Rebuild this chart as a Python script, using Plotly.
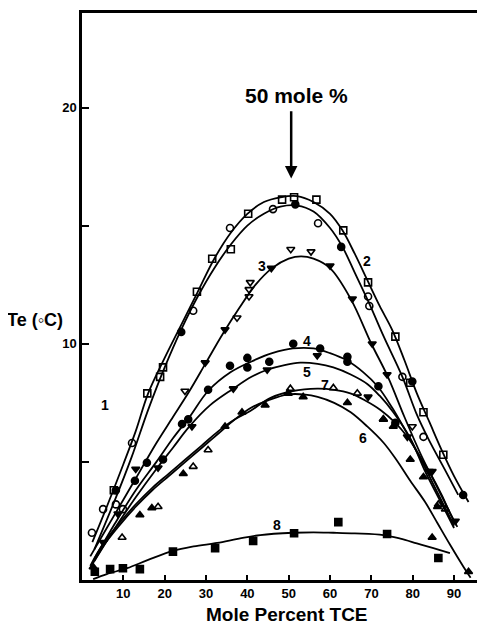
import plotly.graph_objects as go

# ---------------- fitted curves ----------------
curve1_x = [2.5, 6, 10, 13, 16, 20, 24, 28, 32, 36, 40, 44, 48, 52, 56, 60, 63, 66, 69, 72, 75, 78, 81, 84, 87, 90, 93.5]
curve1_y = [1.6, 3.1, 4.9, 6.3, 7.9, 9.4, 10.8, 12.2, 13.6, 14.7, 15.5, 16.0, 16.2, 16.25, 16.0, 15.5, 14.8, 13.8, 12.7, 11.6, 10.6, 9.3, 7.9, 6.7, 5.5, 4.4, 3.3]

curve2_x = [3, 8, 12, 16, 20, 24, 28, 32, 36, 40, 44, 48, 52, 56, 60, 63, 66, 69.5, 73, 77.5, 81, 84, 88, 91]
curve2_y = [1.3, 3.4, 5.2, 7.2, 9.0, 10.6, 12.0, 13.2, 14.2, 15.0, 15.5, 15.8, 15.85, 15.6, 14.9, 14.1, 13.0, 11.7, 10.3, 8.6, 7.0, 5.9, 4.6, 3.6]

curve3_x = [2, 6, 10, 14, 18, 22, 26, 30, 34, 38, 42, 46, 50, 53, 56, 60, 65, 70, 74, 78, 82, 86, 90]
curve3_y = [1.0, 2.2, 3.4, 4.6, 5.8, 6.9, 8.0, 9.2, 10.4, 11.5, 12.5, 13.2, 13.6, 13.7, 13.6, 13.2, 11.9, 10.0, 8.6, 6.9, 5.3, 3.9, 2.5]

curve4_x = [3, 8, 13, 18, 22, 26, 30.5, 36, 41, 46, 51, 56, 60, 64, 68, 71.5, 75, 78, 82, 86, 90]
curve4_y = [0.9, 2.4, 3.8, 5.0, 6.0, 6.9, 8.0, 8.8, 9.25, 9.6, 9.8, 9.8, 9.6, 9.3, 8.8, 8.2, 7.3, 6.4, 5.1, 3.7, 2.3]

curve5_x = [3, 8, 13, 18, 22, 26, 31, 36.6, 41, 44.8, 49, 52.8, 57, 60.8, 65, 69, 72, 75.3, 79.4, 83, 86.5, 90]
curve5_y = [0.8, 2.2, 3.5, 4.7, 5.6, 6.5, 7.4, 8.1, 8.6, 8.9, 9.1, 9.2, 9.15, 9.0, 8.7, 8.3, 7.8, 7.1, 6.0, 4.6, 3.4, 2.2]

curve6_x = [2, 5, 9, 13, 17, 21, 25, 29, 33, 37, 41, 45, 49.6, 54, 57, 61, 65, 69, 73, 76, 79.4, 83, 86, 89, 92.3, 94]
curve6_y = [0.5, 1.4, 2.3, 3.1, 3.8, 4.4, 5.0, 5.6, 6.2, 6.8, 7.3, 7.6, 7.85, 7.85, 7.75, 7.5, 7.1, 6.5, 5.8, 5.1, 4.2, 3.3, 2.4, 1.5, 0.55, 0.1]

curve7_x = [2, 5, 9, 13, 17, 21, 25, 29, 33, 37, 40.7, 45.5, 51, 56.9, 61, 64.9, 68.5, 72.2, 75.5, 78.7, 81.5, 84.3, 87, 89.1, 90.8]
curve7_y = [0.6, 1.5, 2.4, 3.2, 3.9, 4.5, 5.1, 5.7, 6.3, 6.8, 7.15, 7.7, 8.0, 8.1, 8.05, 7.9, 7.6, 7.2, 6.7, 6.06, 5.3, 4.5, 3.6, 2.8, 2.25]

curve8_x = [2.7, 6, 10.9, 16, 22, 27, 32.7, 38, 43.1, 51.1, 56, 60.8, 66, 72.9, 77, 81, 85, 89]
curve8_y = [0.04, 0.25, 0.5, 0.85, 1.23, 1.42, 1.57, 1.75, 1.9, 2.0, 2.02, 2.0, 1.97, 1.9, 1.75, 1.55, 1.35, 1.14]

# ---------------- measured points ----------------
s1_x = [7.7, 15.8, 18.9, 19.6, 27.8, 31.5, 36, 40.2, 48.4, 51.3, 56.7, 63.2, 69.2, 75.8, 79.4, 82.6, 87.4]
s1_y = [3.8, 7.9, 8.6, 9.0, 12.2, 13.6, 14.0, 15.5, 16.1, 16.2, 16.1, 14.8, 12.6, 10.3, 8.35, 7.1, 5.3]

s2_open_x = [2.4, 5.1, 8.2, 9.9, 12.1, 26.9, 35.8, 46.2, 57.1, 69.2, 69.5, 77.5, 82.6]
s2_open_y = [2.0, 3.0, 3.2, 3.0, 5.8, 11.4, 14.9, 15.7, 15.1, 12.0, 11.6, 8.6, 6.06]
s2_filled_x = [24.0, 51.6, 62.7, 79.9, 92.2]
s2_filled_y = [10.5, 15.9, 14.1, 8.4, 3.6]

s3_open_x = [24.9, 37.5, 40.4, 40.4, 40.7, 50.5, 55.4, 79.9]
s3_open_y = [8.0, 11.1, 12.0, 12.3, 12.6, 14.0, 13.9, 6.5]
s3_filled_x = [13, 29.8, 34.6, 45.8, 60, 65.4, 70.2, 73.8, 84]
s3_filled_y = [4.7, 9.2, 10.6, 13.2, 13.3, 11.9, 10.0, 8.7, 4.6]

s4_x = [8.2, 12.8, 15.7, 19.6, 24.2, 25.7, 30.5, 35.8, 40, 40, 45.3, 51.1, 57.6, 64.2, 64.2, 71.7, 75.8]
s4_y = [3.8, 4.2, 4.96, 5.1, 6.6, 6.8, 8.05, 9.07, 9.4, 9.0, 9.24, 10.0, 9.8, 9.45, 9.24, 8.2, 6.65]

s5_x = [5.1, 8.7, 18.4, 26.6, 36.6, 44.8, 56.9, 69.2, 78.7, 84.7, 90.3]
s5_y = [1.6, 2.8, 4.75, 6.5, 8.1, 8.9, 9.5, 7.75, 6.06, 4.6, 2.5]

s6_x = [2.7, 14, 16.9, 24.5, 34.6, 38.7, 44.3, 49.9, 53.5, 64.2, 72.9, 75.3, 79.4, 82.6, 84.7, 86, 93.5]
s6_y = [0.55, 2.75, 3.05, 4.5, 6.5, 7.1, 7.4, 7.9, 7.75, 7.5, 6.8, 6.5, 5.1, 4.36, 1.8, 3.1, 0.35]

s7_x = [9.7, 18.4, 26.9, 30.5, 50.4, 60.8, 66.6, 72.9, 86.2, 87.9]
s7_y = [1.8, 3.1, 4.8, 5.5, 8.1, 8.13, 7.9, 6.8, 3.2, 3.0]

s8_x = [3.1, 6.8, 9.9, 14, 22, 32.2, 41.4, 51.3, 62, 73.8, 86.2]
s8_y = [0.35, 0.46, 0.5, 0.46, 1.2, 1.35, 1.65, 1.98, 2.45, 1.95, 0.93]

# curve labels
label_text = ["1", "2", "3", "4", "5", "6", "7", "8"]
label_x = [5.6, 69.0, 43.6, 54.5, 54.5, 68.0, 58.8, 47.2]
label_y = [7.4, 13.5, 13.3, 10.1, 8.8, 6.0, 8.26, 2.33]

x_ticks = [10, 20, 30, 40, 50, 60, 70, 80, 90]
y_ticks = [5, 10, 15, 20]
y_ticklabels = ["", "10", "", "20"]

FONT = "Liberation Sans"

fig = go.Figure()

curves = [(curve1_x, curve1_y), (curve2_x, curve2_y), (curve3_x, curve3_y), (curve4_x, curve4_y),
          (curve5_x, curve5_y), (curve6_x, curve6_y), (curve7_x, curve7_y), (curve8_x, curve8_y)]
for cx, cy in curves:
    fig.add_trace(go.Scatter(x=cx, y=cy, mode="lines",
                             line=dict(color="black", width=1.8, shape="spline", smoothing=1.0),
                             hoverinfo="skip"))

points = [
    (s1_x, s1_y, "square-open"),
    (s2_open_x, s2_open_y, "circle-open"),
    (s2_filled_x, s2_filled_y, "circle"),
    (s3_open_x, s3_open_y, "triangle-down-open"),
    (s3_filled_x, s3_filled_y, "triangle-down"),
    (s4_x, s4_y, "circle"),
    (s5_x, s5_y, "triangle-down"),
    (s6_x, s6_y, "triangle-up"),
    (s7_x, s7_y, "triangle-up-open"),
    (s8_x, s8_y, "square"),
]
for px, py, sym in points:
    fig.add_trace(go.Scatter(x=px, y=py, mode="markers",
                             marker=dict(symbol=sym, size=7, color="black",
                                         line=dict(color="black", width=1.6))))

annotations = []
for t, lx, ly in zip(label_text, label_x, label_y):
    annotations.append(dict(x=lx, y=ly, xref="x", yref="y", text="<b>%s</b>" % t,
                            showarrow=False, xanchor="center", yanchor="middle",
                            font=dict(family=FONT, size=14, color="black")))

annotations.append(dict(x=52, y=20.5, xref="x", yref="y", text="<b>50 mole %</b>",
                        showarrow=False, xanchor="center", yanchor="middle",
                        font=dict(family=FONT, size=21, color="black")))
annotations.append(dict(x=50.6, y=17.0, ax=50.6, ay=19.9, xref="x", yref="y",
                        axref="x", ayref="y", text="", showarrow=True,
                        arrowhead=2, arrowsize=1, arrowwidth=2.5, arrowcolor="black"))
annotations.append(dict(x=0.511, y=-0.061, xref="paper", yref="paper",
                        text="<b>Mole Percent TCE</b>", showarrow=False,
                        xanchor="center", yanchor="middle",
                        font=dict(family=FONT, size=19, color="black")))
annotations.append(dict(x=-0.117, y=0.459, xref="paper", yref="paper",
                        text="<b>Te (◦C)</b>", showarrow=False,
                        xanchor="center", yanchor="middle",
                        font=dict(family=FONT, size=18, color="black")))

# The page body has an 8 px margin, so the figure is sized/offset to compensate.
fig.update_layout(
    width=477, height=616,
    margin=dict(l=74, r=2, t=5, b=44),
    paper_bgcolor="white", plot_bgcolor="white",
    showlegend=False,
    annotations=annotations,
    xaxis=dict(range=[0, 97], showgrid=False, zeroline=False,
               showline=True, linewidth=2.5, linecolor="black", mirror=True,
               ticks="inside", ticklen=5, tickwidth=1.5, tickcolor="black",
               tickvals=x_ticks, ticktext=["<b>%d</b>" % v for v in x_ticks],
               tickfont=dict(family=FONT, size=13, color="black")),
    yaxis=dict(range=[0, 24], showgrid=False, zeroline=False,
               showline=True, linewidth=2.5, linecolor="black", mirror=False,
               ticks="inside", ticklen=7, tickwidth=1.5, tickcolor="black",
               tickvals=y_ticks, ticktext=["<b>%s</b>" % v if v else "" for v in y_ticklabels],
               tickfont=dict(family=FONT, size=13, color="black")),
)

fig.write_html("out.html")
